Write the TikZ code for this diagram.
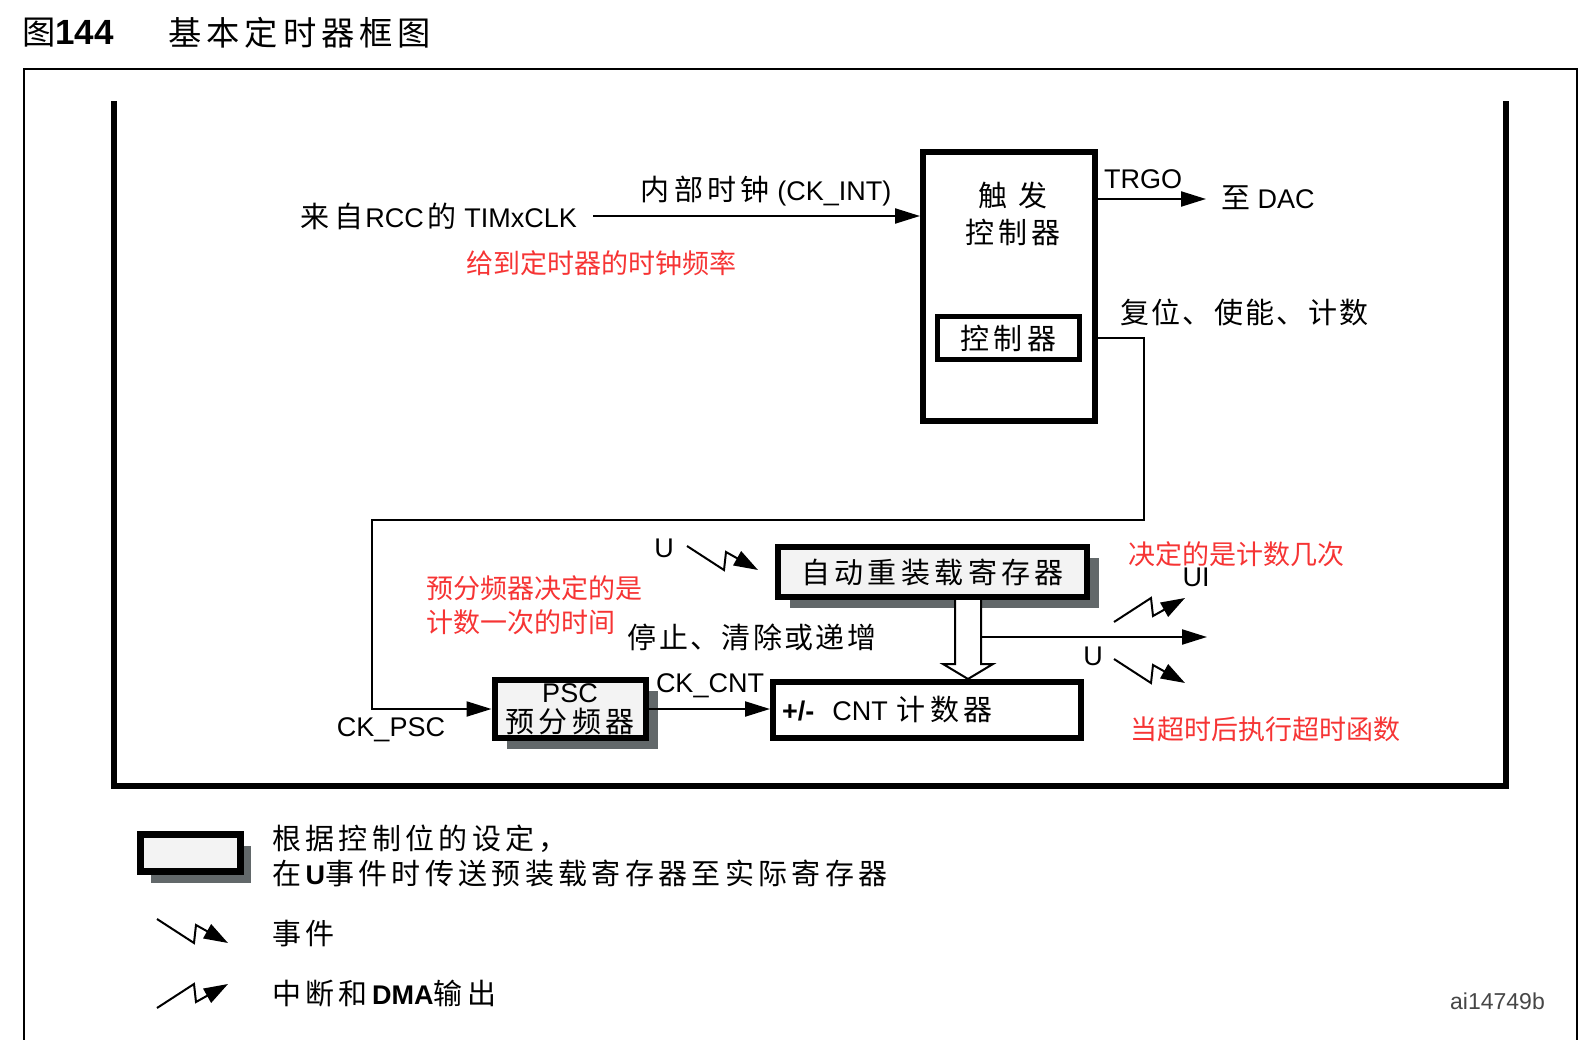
\documentclass[tikz,border=0pt]{standalone}
\usepackage{fontspec}
\setmainfont{Liberation Sans}
\newfontfamily\cjk[LetterSpace=15,Scale=1.074]{Noto Sans CJK SC}
\newfontfamily\cjknarrow[LetterSpace=8,Scale=1.074]{Noto Sans CJK SC}
\newfontfamily\cjkred{Noto Sans CJK SC}
\usepackage{tikz}
\usetikzlibrary{arrows.meta,shadows}
\definecolor{boxgray}{RGB}{243,243,243}
\definecolor{shadowgray}{RGB}{98,104,106}
\definecolor{notered}{RGB}{246,52,52}
\definecolor{idgray}{RGB}{70,70,70}
\newcommand{\zh}[1]{{\cjk #1}}

\begin{document}
\begin{tikzpicture}[x=1pt,y=-1pt,
  txt/.style={inner sep=0pt,font=\fontsize{27}{34}\selectfont},
  note/.style={inner sep=0pt,text=notered,font=\fontsize{27}{34}\selectfont\cjkred},
  blk/.style={draw,line width=6pt,inner sep=0pt},
  regbox/.style={blk,fill=boxgray,
                 drop shadow={shadow xshift=12pt,shadow yshift=-11pt,
                              fill=shadowgray,opacity=1}},
  arrow/.style={line width=2.2pt,-{Triangle[length=25pt,width=15pt]}},
  frame/.style={line width=6pt},
  hollow/.style={line width=2pt,fill=white},
  evt/.pic={\draw[line width=2pt,-{Triangle[length=24pt,width=16pt]}]
            (0,0) -- (37,24) -- (39,6) -- (71,24);},
  irq/.pic={\draw[line width=2pt,-{Triangle[length=24pt,width=16pt]}]
            (0,0) -- (37,-24) -- (39,-6) -- (71,-24);}
]
\useasboundingbox (0,0) rectangle (1589,1040);

% Caption and frames.
\node[txt,anchor=west,font=\fontsize{31}{36}\selectfont] (fignum) at (22,33)
  {\zh{图}{\fontsize{35}{36}\selectfont\bfseries 144}};
\node[txt,anchor=west,font=\fontsize{31}{36}\selectfont] (figtitle) at (168,33)
  {\zh{基本定时器框图}};
\draw[line width=2pt] (24,1040) -- (24,69) -- (1577,69) -- (1577,1040);
\draw[frame] (114,101) -- (114,786) -- (1506,786) -- (1506,101);

% Trigger controller and clock input.
\node[blk,minimum width=172pt,minimum height=269pt] (trigger) at (1009,286.5) {};
\node[txt,align=center,font=\fontsize{27}{37}\selectfont] (trigtxt) at (1013,213.5)
  {\zh{触 发}\\\zh{控制器}};
\node[txt,blk,line width=5pt,minimum width=142pt,minimum height=43pt] (ctrl)
  at (1008.5,338) {\zh{控制器}};
\node[txt,anchor=east] (clk) at (577,216)
  {\zh{来自}\hspace{2pt}RCC\hspace{4pt}\zh{的} TIMxCLK};
\node[txt] (ckint) at (766,191) {\zh{内部时钟} (CK\_INT)};
\node[note] (clknote) at (601,263) {给到定时器的时钟频率};
\coordinate (trgo) at (1206,199);
\node[txt] (trgolbl) at (1143,179) {TRGO};
\node[txt,anchor=west] (dac) at (1221,198) {\zh{至} DAC};
\node[txt,anchor=west] (rst) at (1120,312) {{\cjknarrow 复位、使能、计数}};

% Prescaler, auto-reload register and counter.
\node[txt,regbox,minimum width=151pt,minimum height=58pt,align=center,
      font=\fontsize{27}{30}\selectfont] (psc) at (570,709) {PSC\\\zh{预分频器}};
\node[txt,regbox,minimum width=309pt,minimum height=50pt] (arreg) at (932.5,572)
  {\zh{自动重装载寄存器}};
\node[txt,blk,minimum width=308pt,minimum height=56pt,text width=290pt,
      align=left] (cnt) at (927,710) {\textbf{+/-}\hspace{18pt}CNT \zh{计数器}};
\node[txt] (ckpsc) at (391,730) {CK\_PSC};
\node[txt] (ckcnt) at (710,686) {CK\_CNT};
\node[txt] (stoplbl) at (752,637) {{\cjknarrow 停止、清除或递增}};
\node[note,align=left,anchor=west] (pscnote) at (426,605)
  {预分频器决定的是\\计数一次的时间};
\node[note] (arrnote) at (1236,554) {决定的是计数几次};
\node[note] (cntnote) at (1265,729) {当超时后执行超时函数};
\node[txt] (uevt) at (664,548) {U};
\node[txt] (ui) at (1196,577) {UI};
\node[txt] (uupd) at (1093,656) {U};
\coordinate (hx) at (968,0);
\coordinate (ovf) at (1207,637);

% Connections.
\draw[arrow] ([xshift=16pt]clk.east) -- (clk.east -| trigger.west);
\draw[arrow] (trigger.east |- trgo) -- (trgo);
\draw[arrow] (trigger.east |- ctrl) -- ++(46,0) |- (372,520) |- (psc.west);
\draw[arrow] (psc.east) -- (psc.east -| cnt.west);
\draw[hollow] (arreg.south -| hx) ++(-13,0) -- ++(0,64) -- ++(-12,0)
  -- (cnt.north -| hx) -- ++(25,-15) -- ++(-12,0) -- ++(0,-64);
\draw[arrow] (ovf -| hx) ++(13,0) -- (ovf);
\pic at (687,546) {evt};
\pic at (1114,622) {irq};
\pic at (1114,659) {evt};

% Legend.
\node[blk,line width=7pt,fill=boxgray,minimum width=100pt,minimum height=37pt,
      drop shadow={shadow xshift=11pt,shadow yshift=-12pt,fill=shadowgray,opacity=1}]
  (legbox) at (190,852.5) {};
\node[txt,anchor=west,align=left,font=\fontsize{27}{35}\selectfont] (legtxt)
  at (272,856) {\zh{根据控制位的设定，}\\\zh{在}\textbf{U}\zh{事件时传送预装载寄存器至实际寄存器}};
\pic at (157,919) {evt};
\node[txt,anchor=west] (legevt) at (272,934) {\zh{事件}};
\pic at (157,1008) {irq};
\node[txt,anchor=west] (legirq) at (272,993) {\zh{中断和}\textbf{DMA}\zh{输出}};
\node[txt,anchor=east,text=idgray,font=\fontsize{23}{26}\selectfont] (figid)
  at (1545,1001) {ai14749b};
\end{tikzpicture}
\end{document}
